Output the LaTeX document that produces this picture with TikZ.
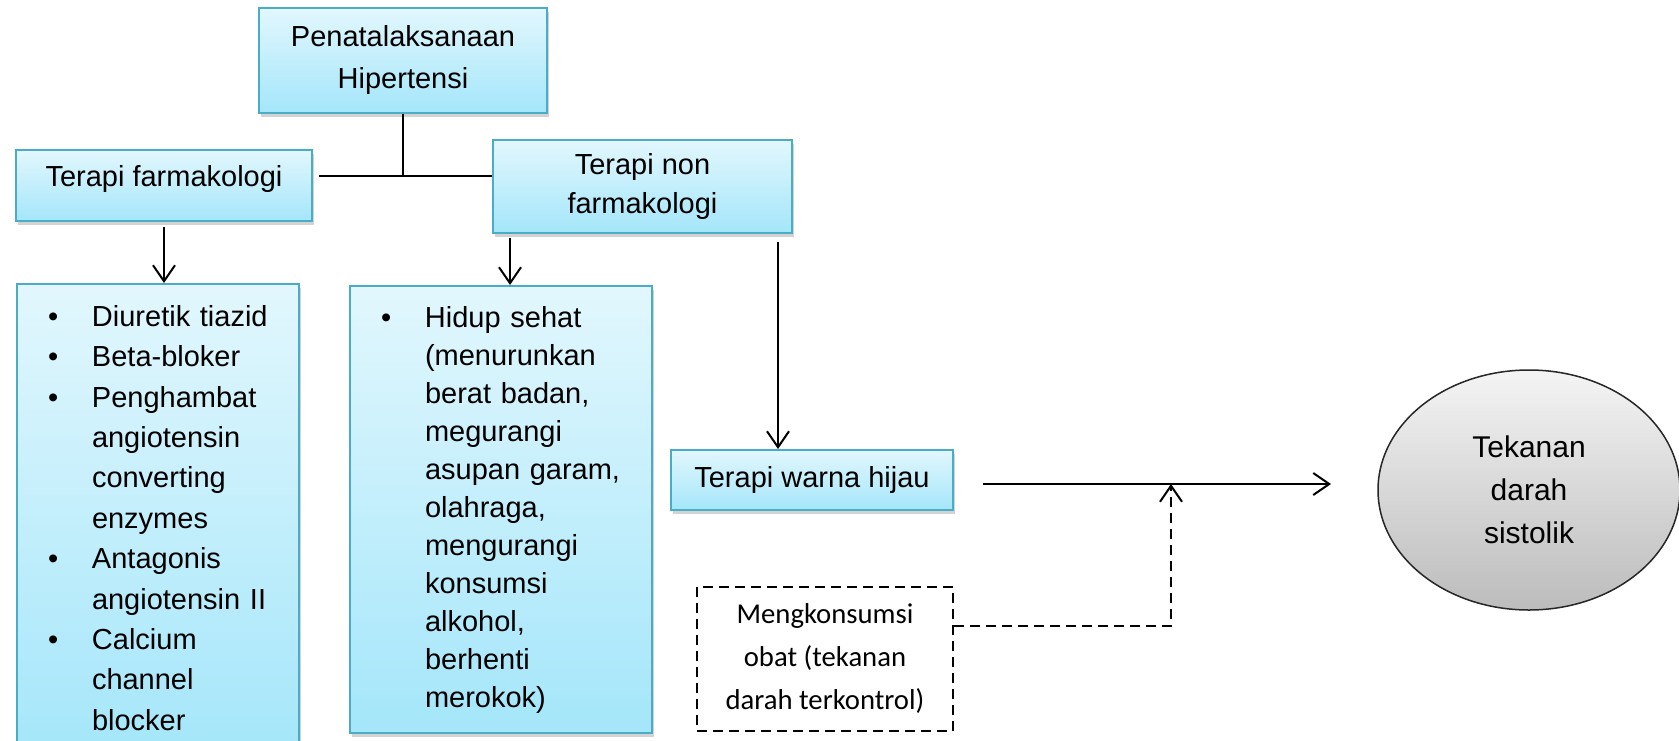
\documentclass[tikz,border=0pt]{standalone}
\usepackage{fontspec}
\setmainfont{Liberation Sans}
\newfontfamily\obatfont{Carlito}
\usetikzlibrary{arrows.meta}
\usetikzlibrary{shapes.geometric}
\usetikzlibrary{shadows}
\usetikzlibrary{calc}

\definecolor{garisbiru}{HTML}{4BACC6}
\definecolor{birumuda}{HTML}{E2F7FD}
\definecolor{birutua}{HTML}{A4E6FA}
\definecolor{abumuda}{HTML}{F4F4F4}
\definecolor{abutua}{HTML}{BCBCBC}

\tikzset{
  kotak/.style={draw=garisbiru, line width=2pt, top color=birumuda, bottom color=birutua,
    drop shadow={shadow xshift=2pt, shadow yshift=-4pt, opacity=0.35},
    font=\fontsize{29}{41}\selectfont, align=center, inner sep=0pt},
  daftar/.style={kotak, align=left, anchor=north west, inner xsep=31pt},
  panah/.style={-{Straight Barb[length=16pt,width=22pt]}, line width=2pt},
  putus/.style={dash pattern=on 10pt off 6pt},
}

\begin{document}
\begin{tikzpicture}[x=1pt,y=-1pt]
  \useasboundingbox (0,0) rectangle (1679,740);
  \clip (0,0) rectangle (1679,740);

  % kotak utama
  \node[kotak, minimum width=288pt, minimum height=105pt,
    font=\fontsize{29}{42}\selectfont] (hiper) at (403,60) {Penatalaksanaan\\Hipertensi};
  \node[kotak, minimum width=296pt, minimum height=71pt,
    text height=21pt, text depth=20pt] (farm) at (164,185.5) {Terapi farmakologi};
  \node[kotak, minimum width=299pt, minimum height=93pt,
    font=\fontsize{29}{39}\selectfont] (nonfarm) at (642.5,186.5) {Terapi non\\farmakologi};

  % daftar (kotak kiri terpotong di bawah)
  \node[daftar, text width=220pt, inner ysep=14pt,
    font=\fontsize{29}{40.4}\selectfont] (list1) at (16,283) {%
    \noindent\begin{tabular}{@{}p{44pt}@{}l@{}}
      \textbullet & Diuretik tiazid\\
      \textbullet & Beta-bloker\\
      \textbullet & Penghambat\\
                  & angiotensin\\
                  & converting\\
                  & enzymes\\
      \textbullet & Antagonis\\
                  & angiotensin II\\
      \textbullet & Calcium\\
                  & channel\\
                  & blocker
    \end{tabular}\par\vspace*{30pt}};
  \node[daftar, text width=240pt, inner ysep=14.5pt,
    font=\fontsize{29}{38}\selectfont] (list2) at (349,285) {%
    \noindent\begin{tabular}{@{}p{44pt}@{}l@{}}
      \textbullet & Hidup sehat\\
                  & (menurunkan\\
                  & berat badan,\\
                  & megurangi\\
                  & asupan garam,\\
                  & olahraga,\\
                  & mengurangi\\
                  & konsumsi\\
                  & alkohol,\\
                  & berhenti\\
                  & merokok)
    \end{tabular}};

  \node[kotak, minimum width=282pt, minimum height=60pt] (hijau) at (812,480) {Terapi warna hijau};

  \node[draw, putus, line width=1.8pt, minimum width=256pt, minimum height=144pt,
    inner sep=0pt, align=center, font=\obatfont\fontsize{28.7}{43}\selectfont]
    (obat) at (825,659) {Mengkonsumsi\\obat (tekanan\\darah terkontrol)};

  \node[ellipse, draw=black!85, line width=1.5pt, top color=abumuda, bottom color=abutua,
    minimum width=302pt, minimum height=240pt, inner sep=0pt, align=center,
    font=\fontsize{30}{43}\selectfont] (tekanan) at (1529,490) {Tekanan\\darah\\sistolik};

  % garis penghubung
  \coordinate (simpang) at (403,176);
  \draw[line width=2pt] (hiper.south) -- (simpang);
  \draw[line width=2pt] (farm.east |- simpang) ++(6,0) -- (nonfarm.west |- simpang);

  \draw[panah, shorten <=5pt] (farm.south) -- (farm.south |- list1.north);
  \path ($(nonfarm.south west)+(18,0)$) coordinate (nfkiri);
  \path ($(nonfarm.south east)+(-15,0)$) coordinate (nfkanan);
  \draw[panah, shorten <=4pt] (nfkiri) -- (nfkiri |- list2.north);
  \draw[panah, shorten <=8pt] (nfkanan) -- (nfkanan |- hijau.north);

  \coordinate (ujung) at (1331,484);
  \draw[panah] (hijau.east |- ujung) ++(29,0) -- (ujung);

  \coordinate (temu) at (1171,484);
  \coordinate (belok) at (1171,626);
  \draw[panah, putus] (obat.east |- belok) -- (belok) -- (temu);
\end{tikzpicture}
\end{document}
